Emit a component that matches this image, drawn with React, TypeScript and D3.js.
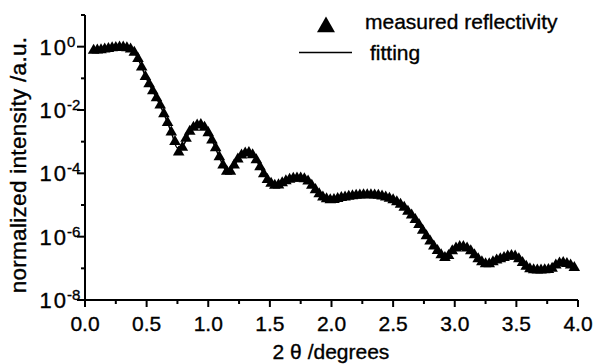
import React from "react";
import * as d3 from "d3";

// Measured reflectivity: 2θ (degrees) and log10 of the normalized intensity
const measuredTheta = [
  0.07, 0.1, 0.13, 0.16, 0.19, 0.22, 0.25, 0.28, 0.31, 0.34, 0.37, 0.4, 0.43, 0.46, 0.49,
  0.52, 0.55, 0.58, 0.61, 0.64, 0.67, 0.7, 0.73, 0.76, 0.79, 0.82, 0.85, 0.88, 0.91, 0.94,
  0.97, 1.0, 1.03, 1.06, 1.09, 1.12, 1.15, 1.18, 1.21, 1.24, 1.27, 1.3, 1.33, 1.36, 1.39,
  1.42, 1.45, 1.48, 1.51, 1.54, 1.57, 1.6, 1.63, 1.66, 1.69, 1.72, 1.75, 1.78, 1.81, 1.84,
  1.87, 1.9, 1.93, 1.96, 1.99, 2.02, 2.05, 2.08, 2.11, 2.14, 2.17, 2.2, 2.23, 2.26, 2.29,
  2.32, 2.35, 2.38, 2.41, 2.44, 2.47, 2.5, 2.53, 2.56, 2.59, 2.62, 2.65, 2.68, 2.71, 2.74,
  2.77, 2.8, 2.83, 2.86, 2.89, 2.92, 2.95, 2.98, 3.01, 3.04, 3.07, 3.1, 3.13, 3.16, 3.19,
  3.22, 3.25, 3.28, 3.31, 3.34, 3.37, 3.4, 3.43, 3.46, 3.49, 3.52, 3.55, 3.58, 3.61, 3.64,
  3.67, 3.7, 3.73, 3.76, 3.79, 3.82, 3.85, 3.88, 3.91, 3.94, 3.97,
];
const measuredLog = [
  -0.12, -0.11, -0.1, -0.08, -0.06, -0.04, -0.03, -0.02, -0.02, -0.04, -0.08, -0.18, -0.38, -0.65, -0.95,
  -1.18, -1.4, -1.62, -1.85, -2.12, -2.4, -2.7, -3.0, -3.33, -3.18, -2.9, -2.68, -2.55, -2.48, -2.46,
  -2.55, -2.72, -2.95, -3.2, -3.48, -3.74, -3.94, -3.94, -3.74, -3.55, -3.43, -3.36, -3.35, -3.42, -3.58,
  -3.8, -4.02, -4.2, -4.32, -4.38, -4.37, -4.3, -4.24, -4.19, -4.16, -4.15, -4.15, -4.18, -4.25, -4.38,
  -4.52, -4.65, -4.75, -4.81, -4.84, -4.83, -4.8, -4.77, -4.75, -4.73, -4.71, -4.7, -4.69, -4.68, -4.68,
  -4.68, -4.69, -4.7, -4.72, -4.75, -4.79, -4.84, -4.9, -4.98, -5.08, -5.2, -5.32, -5.46, -5.62, -5.8,
  -5.98, -6.14, -6.3, -6.44, -6.58, -6.66, -6.6, -6.45, -6.36, -6.32, -6.32, -6.36, -6.45, -6.58, -6.7,
  -6.8, -6.86, -6.86, -6.8, -6.74, -6.7, -6.66, -6.62, -6.6, -6.62, -6.7, -6.82, -6.94, -7.02, -7.05,
  -7.06, -7.06, -7.05, -7.04, -7.0, -6.9, -6.84, -6.82, -6.85, -6.9, -6.98,
];

// Model fit: 2θ (degrees) and log10 of the normalized intensity
const fitTheta = [
  0.1, 0.15, 0.2, 0.25, 0.3, 0.35, 0.4, 0.45, 0.5, 0.55, 0.6, 0.65, 0.7, 0.75, 0.8,
  0.85, 0.9, 0.95, 1.0, 1.05, 1.1, 1.15, 1.2, 1.25, 1.3, 1.35, 1.4, 1.45, 1.5, 1.55,
  1.6, 1.65, 1.7, 1.75, 1.8, 1.85, 1.9, 1.95, 2.0, 2.05, 2.1, 2.15, 2.2, 2.25, 2.3,
  2.35, 2.4, 2.45, 2.5, 2.55, 2.6, 2.65, 2.7, 2.75, 2.8, 2.85, 2.9, 2.95, 3.0, 3.05,
  3.1, 3.15, 3.2, 3.25, 3.3, 3.35, 3.4, 3.45, 3.5, 3.55, 3.6, 3.65, 3.7, 3.75, 3.8,
  3.85, 3.9, 3.95,
];
const fitLog = [
  -0.1, -0.08, -0.05, -0.03, -0.02, -0.05, -0.18, -0.55, -1.02, -1.4, -1.78, -2.21, -2.7, -3.2, -3.1,
  -2.68, -2.5, -2.47, -2.72, -3.12, -3.58, -3.92, -3.82, -3.5, -3.36, -3.39, -3.65, -4.02, -4.29, -4.38,
  -4.3, -4.21, -4.16, -4.15, -4.22, -4.43, -4.65, -4.79, -4.84, -4.8, -4.76, -4.72, -4.7, -4.68, -4.68,
  -4.69, -4.71, -4.76, -4.84, -4.95, -5.12, -5.32, -5.57, -5.86, -6.14, -6.4, -6.62, -6.58, -6.38, -6.32,
  -6.36, -6.53, -6.74, -6.86, -6.82, -6.72, -6.66, -6.61, -6.64, -6.82, -7.0, -7.05, -7.06, -7.04, -6.96,
  -6.84, -6.83, -6.92,
];

const xMajorTicks = [0, 0.5, 1, 1.5, 2, 2.5, 3, 3.5, 4];
const xMinorTicks = [0.25, 0.75, 1.25, 1.75, 2.25, 2.75, 3.25, 3.75];
const yMajorExponents = [0, -2, -4, -6, -8];
const yMinorExponents = [1, -1, -3, -5, -7];

const legendLabels = ["measured reflectivity", "fitting"];
const xTitle = "2 θ /degrees";
const yTitle = "normalized intensity /a.u.";

const W = 595;
const H = 364;
const FONT = "'Liberation Sans', Arial, Helvetica, sans-serif";
// a faint outline gives the glyphs a slightly heavier, printed look
const INK = { fill: "#000", stroke: "#000", strokeWidth: 0.35 };

export default function App() {
  const x = d3.scaleLinear().domain([0, 4]).range([85, 578]);
  const y = d3.scaleLog().domain([1e-8, 1e1]).range([300, 15]);

  const measured = measuredTheta.map((t, i) => ({ t, v: Math.pow(10, measuredLog[i]) }));
  const fit = fitTheta.map((t, i) => ({ t, v: Math.pow(10, fitLog[i]) }));

  const fitLine = d3
    .line<{ t: number; v: number }>()
    .x((d) => x(d.t))
    .y((d) => y(d.v))
    .curve(d3.curveMonotoneX);

  const tri = d3.symbol(d3.symbolTriangle, 58)() as string;
  const legendTri = d3.symbol(d3.symbolTriangle, 140)() as string;

  const x0 = x.range()[0];
  const yBase = y.range()[0];

  return (
    <svg width={W} height={H} style={{ position: "absolute", left: 0, top: 0, background: "#fff" }}>
      <rect width={W} height={H} fill="#fff" />

      {/* fit curve beneath the measured points */}
      <path d={fitLine(fit) ?? ""} fill="none" stroke="#000" strokeWidth={1.5} />

      {/* measured points */}
      <g fill="#000">
        {measured.map((d, i) => (
          <path key={i} d={tri} transform={`translate(${x(d.t)},${y(d.v)})`} />
        ))}
      </g>

      {/* axes */}
      <g stroke="#000" strokeWidth={2} fill="none">
        <line x1={x0} x2={x0} y1={y.range()[1]} y2={yBase + 1} />
        <line x1={x0 - 1} x2={x.range()[1]} y1={yBase} y2={yBase} />
        {xMajorTicks.map((t) => (
          <line key={`xM${t}`} x1={x(t)} x2={x(t)} y1={yBase} y2={yBase + 7} />
        ))}
        {xMinorTicks.map((t) => (
          <line key={`xm${t}`} x1={x(t)} x2={x(t)} y1={yBase} y2={yBase + 4} />
        ))}
        {yMajorExponents.map((e) => (
          <line key={`yM${e}`} x1={x0 - 8} x2={x0} y1={y(Math.pow(10, e))} y2={y(Math.pow(10, e))} />
        ))}
        {yMinorExponents.map((e) => (
          <line key={`ym${e}`} x1={x0 - 4} x2={x0} y1={y(Math.pow(10, e))} y2={y(Math.pow(10, e))} />
        ))}
      </g>

      {/* x tick labels */}
      <g fontFamily={FONT} fontSize={21} {...INK} textAnchor="middle">
        {xMajorTicks.map((t) => (
          <text key={`xl${t}`} x={x(t)} y={331}>
            {t.toFixed(1)}
          </text>
        ))}
      </g>

      {/* y tick labels as powers of ten */}
      <g fontFamily={FONT} {...INK}>
        {yMajorExponents.map((e) => {
          const yy = y(Math.pow(10, e));
          return (
            <g key={`yl${e}`}>
              <text x={68} y={yy + 8} fontSize={22} letterSpacing={2} textAnchor="end">
                10
              </text>
              <text x={67} y={yy} fontSize={15}>
                {e === 0 ? "0" : `-${-e}`}
              </text>
            </g>
          );
        })}
      </g>

      {/* axis titles */}
      <text x={331} y={359} fontFamily={FONT} fontSize={21} textAnchor="middle" {...INK}>
        {xTitle}
      </text>
      <text
        transform={`translate(26,165) rotate(-90)`}
        fontFamily={FONT}
        fontSize={22.5}
        letterSpacing={0.3}
        textAnchor="middle"
        {...INK}
      >
        {yTitle}
      </text>

      {/* legend */}
      <g fontFamily={FONT} fontSize={21} {...INK}>
        <path d={legendTri} transform="translate(326,27)" stroke="none" />
        <text x={365} y={29}>
          {legendLabels[0]}
        </text>
        <line x1={299} x2={352} y1={52.5} y2={52.5} stroke="#000" strokeWidth={1.5} />
        <text x={370} y={60}>
          {legendLabels[1]}
        </text>
      </g>
    </svg>
  );
}
